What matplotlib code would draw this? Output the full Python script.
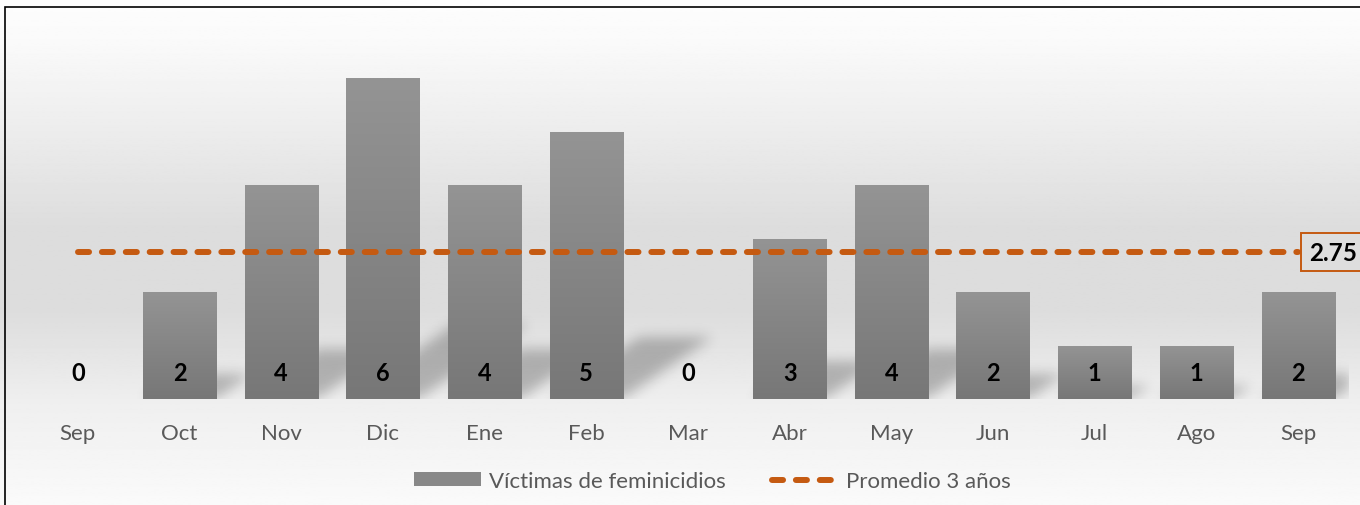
import numpy as np
import matplotlib
matplotlib.use("Agg")
import matplotlib.pyplot as plt
from matplotlib.patches import Rectangle, Patch
from matplotlib.lines import Line2D
from matplotlib.path import Path
from matplotlib.colors import LinearSegmentedColormap

plt.rcParams['font.family'] = ['Lato', 'DejaVu Sans']

months = ["Sep", "Oct", "Nov", "Dic", "Ene", "Feb", "Mar", "Abr", "May", "Jun", "Jul", "Ago", "Sep"]
victims = [0, 2, 4, 6, 4, 5, 0, 3, 4, 2, 1, 1, 2]
average = 2.75
bar_label = "Víctimas de feminicidios"
avg_label = "Promedio 3 años"

ORANGE = "#C55A11"
TICK = "#595959"
BARW = 0.72

W, H = 1360, 506
fig = plt.figure(figsize=(W / 100, H / 100), dpi=100)

# background gradient over the whole figure
bg_ax = fig.add_axes([0, 0, 1, 1], zorder=-10)
bg_ax.set_axis_off()
yy = np.linspace(0, 1, 400)  # 0 = top
stops_y = [0.0, 0.08, 0.25, 0.45, 0.62, 0.80, 1.0]
stops_v = [253, 250, 237, 221, 221, 239, 250]
vals = np.interp(yy, stops_y, stops_v) / 255.0
img = np.repeat(vals[:, None], 2, axis=1)
bg_ax.imshow(img, cmap="gray", vmin=0, vmax=1, aspect="auto", extent=[0, 1, 0, 1])
bg_ax.set_xlim(0, 1)
bg_ax.set_ylim(0, 1)

# frame
fig.patches.append(Rectangle((5 / W, -0.05), 1.2, (H - 8) / H + 0.05, transform=fig.transFigure,
                             fill=False, edgecolor="black", linewidth=1.2, zorder=5))

ax = fig.add_axes([27 / W, (H - 400) / H, 1322 / W, 374 / H])
ax.patch.set_alpha(0)
x = np.arange(len(months))
XMIN, XMAX, YMAX = -0.5, len(months) - 0.5, 7

# soft perspective shadows behind bars
nx, ny = 1322, 374
gx = np.linspace(XMIN, XMAX, nx)
gy = np.linspace(0, YMAX, ny)
GX, GY = np.meshgrid(gx, gy)
pts = np.column_stack([GX.ravel(), GY.ravel()])
mask = np.zeros(GX.size, dtype=float)
for xi, v in zip(x, victims):
    if v <= 0:
        continue
    l, r = xi - BARW / 2, xi + BARW / 2
    dx, rise = 0.177 * v, 0.232 * v
    poly = Path([(l, 0), (r, 0), (r + dx, rise), (l + dx, rise), (l, 0)])
    mask = np.maximum(mask, poly.contains_points(pts).astype(float))
mask = mask.reshape(ny, nx)
k = np.exp(-0.5 * (np.arange(-20, 21) / 6.5) ** 2)
k /= k.sum()
mask = np.apply_along_axis(lambda m: np.convolve(m, k, mode="same"), 1, mask)
mask = np.apply_along_axis(lambda m: np.convolve(m, k, mode="same"), 0, mask)
shadow = np.zeros((ny, nx, 4))
shadow[..., 3] = mask * 0.25
ax.imshow(shadow, origin="lower", aspect="auto", extent=[XMIN, XMAX, 0, YMAX], zorder=1,
          interpolation="bilinear")

bars = ax.bar(x, victims, width=BARW, color="#888888", zorder=2)
grad = LinearSegmentedColormap.from_list("g", ["#777777", "#949494"])
gimg = np.linspace(0, 1, 256)[:, None]
for b in bars:
    h = b.get_height()
    if h <= 0:
        continue
    b.set_facecolor("none")
    im = ax.imshow(gimg, cmap=grad, origin="lower", aspect="auto",
                   extent=[b.get_x(), b.get_x() + b.get_width(), 0, h], zorder=2)
    im.set_clip_path(b)

for xi, v in zip(x, victims):
    ax.text(xi, 0.5, str(v), ha="center", va="center", fontsize=17, fontweight="bold",
            color="black", zorder=4)

avg_line, = ax.plot(x, [average] * len(x), color=ORANGE, linewidth=4.3,
                    dashes=(1.85, 2.15), dash_capstyle="round", zorder=3)
ax.annotate(f"{average:.2f}", xy=(x[-1], average), xytext=(8, 0), textcoords="offset points",
            ha="left", va="center", fontsize=17.5, fontweight="bold", color="black",
            bbox=dict(boxstyle="square,pad=0.32", facecolor="#dedede", edgecolor=ORANGE, linewidth=1.4),
            annotation_clip=False, zorder=5)

ax.set_xlim(XMIN, XMAX)
ax.set_ylim(0, YMAX)
ax.set_xticks(x)
ax.set_xticklabels(months, fontsize=16, color=TICK)
ax.tick_params(axis="x", length=0, pad=17)
ax.set_yticks([])
for s in ax.spines.values():
    s.set_visible(False)

handles = [Patch(facecolor="#888888", edgecolor="none"),
           Line2D([0], [0], color=ORANGE, linewidth=4.3, dashes=(1.85, 2.15), dash_capstyle="round")]
fig.legend(handles, [bar_label, avg_label], loc="center", bbox_to_anchor=(0.524, (H - 482) / H),
           ncol=2, frameon=False, fontsize=16, labelcolor=TICK, handlelength=3.0, handleheight=0.6,
           columnspacing=2.1, handletextpad=0.35)

fig.savefig("out.png", dpi=100)
